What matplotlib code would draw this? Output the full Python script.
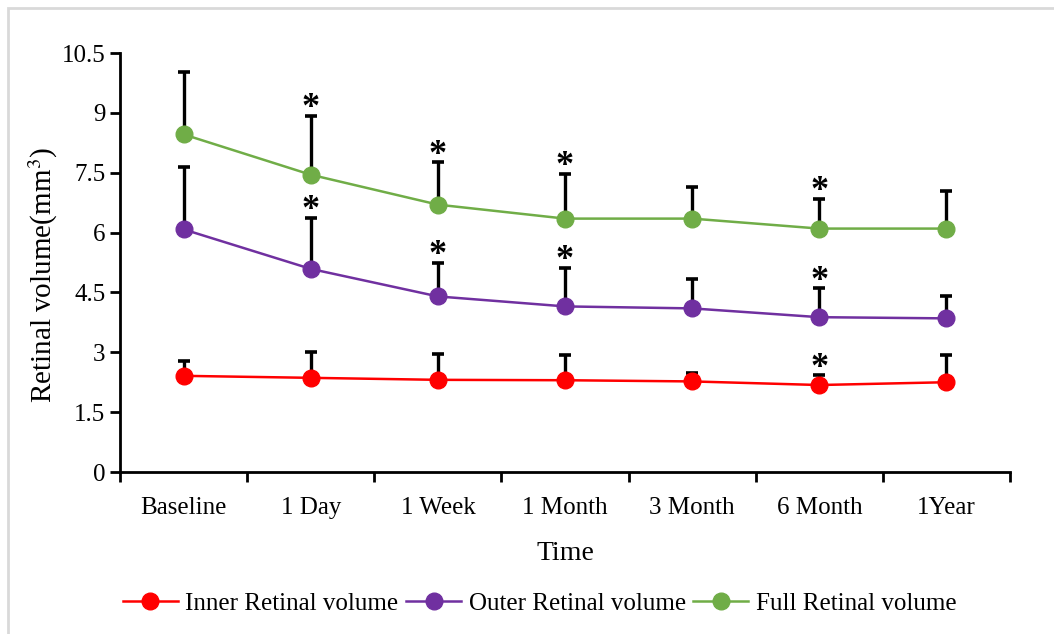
import matplotlib
matplotlib.use("Agg")
import matplotlib.pyplot as plt
from matplotlib.patches import Rectangle
import numpy as np

plt.rcParams["font.family"] = ["Liberation Serif", "DejaVu Serif"]
plt.rcParams["mathtext.fontset"] = "stix"

# time points
categories = ["Baseline", "1 Day", "1 Week", "1 Month", "3 Month", "6 Month", "1Year"]

# mean volumes (mm^3) and upper SD
inner = [2.41, 2.36, 2.31, 2.30, 2.27, 2.18, 2.25]
inner_sd = [0.36, 0.65, 0.64, 0.62, 0.21, 0.24, 0.67]
outer = [6.08, 5.09, 4.40, 4.15, 4.10, 3.88, 3.85]
outer_sd = [1.57, 1.28, 0.85, 0.97, 0.74, 0.72, 0.57]
full = [8.46, 7.45, 6.70, 6.35, 6.35, 6.10, 6.10]
full_sd = [1.57, 1.48, 1.06, 1.13, 0.80, 0.74, 0.94]

# significance markers (*)
inner_sig = [False, False, False, False, False, True, False]
outer_sig = [False, True, True, True, False, True, False]
full_sig = [False, True, True, True, False, True, False]

yticks = [0, 1.5, 3, 4.5, 6, 7.5, 9, 10.5]

series = [
    ("Inner Retinal volume", inner, inner_sd, inner_sig, "#FF0000"),
    ("Outer Retinal volume", outer, outer_sd, outer_sig, "#7030A0"),
    ("Full Retinal volume", full, full_sd, full_sig, "#70AD47"),
]

fig = plt.figure(figsize=(10.54, 6.34), dpi=100)
ax = fig.add_axes([0.1139, 0.2555, 0.8444, 0.6609])

x = np.arange(len(categories))
for label, vals, sd, sig, color in series:
    vals = np.array(vals)
    sd = np.array(sd)
    ax.errorbar(x, vals, yerr=[np.zeros_like(sd), sd], fmt="none",
                ecolor="black", elinewidth=2.4, capsize=4.5, capthick=2.6,
                zorder=2)
    ax.plot(x, vals, color=color, lw=1.8, marker="o", ms=12,
            label=label, zorder=3)
    for xi, v, s, flag in zip(x, vals, sd, sig):
        if flag:
            ax.text(xi, v + s + 0.18, "*", ha="center", va="center",
                    fontsize=26, fontweight="bold", color="black", zorder=4)

ax.set_xlim(-0.5, len(categories) - 0.5)
ax.set_ylim(0, 10.5)
ax.set_xticks(np.arange(len(categories) + 1) - 0.5)
ax.set_xticklabels([])
ax.set_xticks(x, minor=True)
ax.set_xticklabels(categories, minor=True)
ax.tick_params(axis="x", which="minor", length=0, pad=18, labelsize=18)
ax.tick_params(axis="x", which="major", length=7, width=2, direction="out")
ax.set_yticks(yticks)
ax.set_yticklabels([f"{t:g}" for t in yticks])
ax.tick_params(axis="y", length=7, width=2, direction="out", labelsize=18)

for side in ["top", "right"]:
    ax.spines[side].set_visible(False)
for side in ["left", "bottom"]:
    ax.spines[side].set_linewidth(2)

ax.set_xlabel("Time", fontsize=20, labelpad=16)
ax.set_ylabel("Retinal volume(mm$^3$)", fontsize=21)
ax.yaxis.set_label_coords(-0.068, 0.47)

fig.legend(loc="center", bbox_to_anchor=(0.512, 0.048), ncol=3,
           frameon=False, fontsize=18, handlelength=2.2, handletextpad=0.3,
           columnspacing=0.3)

# light frame round the figure
fig.patches.append(Rectangle((8 / 1054, -0.05), 1.1, 1.05 - 8 / 634,
                             transform=fig.transFigure, fill=False,
                             edgecolor="#d9d9d9", lw=2))

fig.savefig("out.png", dpi=100)
